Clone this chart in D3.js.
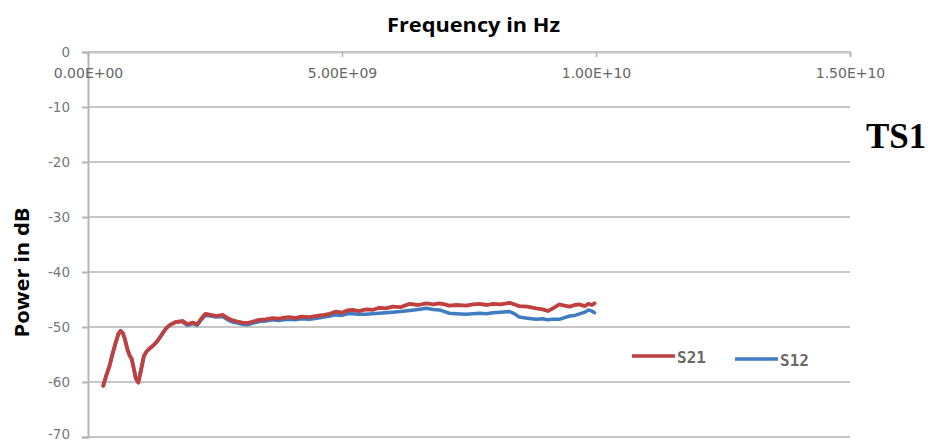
<!DOCTYPE html>
<html>
<head>
<meta charset="utf-8">
<script src="https://cdn.jsdelivr.net/npm/d3@7"></script>
<style>
  html, body { margin: 0; padding: 0; background: #fff; }
  svg { display: block; }
</style>
</head>
<body>
<svg id="chart" width="928" height="443"></svg>
<script>
// ---- data ----
const freqGHz = [0.30,0.36,0.42,0.48,0.54,0.60,0.64,0.68,0.72,0.78,0.82,0.86,0.90,0.94,0.99,1.04,1.10,1.15,1.20,1.28,1.37,1.45,1.54,1.62,1.73,1.80,
  1.86,1.96,2.06,2.15,2.22,2.31,2.42,2.52,2.65,2.75,2.85,2.94,3.04,3.14,3.25,3.37,3.50,3.63,3.75,3.86,3.96,4.08,4.20,4.36,4.50,4.65,4.76,4.88,5.00,5.10,
  5.21,5.33,5.47,5.60,5.73,5.86,6.00,6.15,6.33,6.50,6.66,6.80,6.92,7.02,7.11,7.25,7.44,7.58,7.71,7.85,7.97,8.12,8.30,8.40,8.49,8.65,8.82,8.95,9.05,9.15,
  9.28,9.38,9.48,9.58,9.68,9.78,9.85,9.92,9.97];

const s21 = [-60.7,-58.8,-57.2,-55.0,-53.0,-51.2,-50.7,-51.0,-52.0,-54.2,-55.2,-55.8,-57.5,-59.3,-60.1,-58.0,-55.3,-54.5,-54.0,-53.4,-52.5,-51.4,-50.2,-49.6,-49.1,-49.0,
  -48.9,-49.5,-49.2,-49.5,-48.6,-47.6,-47.8,-48.0,-47.8,-48.4,-48.8,-49.0,-49.2,-49.3,-49.0,-48.7,-48.6,-48.4,-48.5,-48.3,-48.2,-48.4,-48.1,-48.2,-48.0,
  -47.8,-47.6,-47.2,-47.4,-47.0,-46.9,-47.1,-46.8,-46.9,-46.5,-46.6,-46.3,-46.4,-45.8,-46.0,-45.7,-45.9,-45.7,-45.9,-46.1,-46.0,-46.1,-45.9,-45.8,-46.0,
  -45.8,-45.9,-45.6,-45.9,-46.2,-46.3,-46.6,-46.8,-47.1,-46.6,-45.9,-46.1,-46.3,-46.0,-45.9,-46.2,-45.8,-46.0,-45.7];

const s12 = [-60.7,-58.8,-57.2,-55.0,-53.0,-51.2,-50.7,-51.0,-52.0,-54.2,-55.2,-55.8,-57.5,-59.3,-60.1,-58.0,-55.3,-54.5,-54.0,-53.4,-52.5,-51.4,-50.2,-49.6,-49.1,-49.0,
  -49.1,-49.7,-49.4,-49.7,-48.8,-47.9,-48.0,-48.2,-48.1,-48.7,-49.1,-49.3,-49.5,-49.6,-49.3,-49.0,-48.9,-48.7,-48.8,-48.7,-48.6,-48.7,-48.5,-48.6,-48.4,
  -48.2,-48.0,-47.8,-47.9,-47.6,-47.6,-47.7,-47.7,-47.6,-47.5,-47.4,-47.3,-47.2,-47.0,-46.8,-46.6,-46.8,-46.9,-47.2,-47.5,-47.6,-47.7,-47.6,-47.5,-47.6,
  -47.4,-47.3,-47.2,-47.6,-48.2,-48.4,-48.6,-48.5,-48.7,-48.6,-48.6,-48.3,-48.0,-47.9,-47.6,-47.3,-46.9,-47.1,-47.4];

const seriesNames = ["S21", "S12"];
const xTickValues = [0, 5e9, 1e10, 1.5e10];
const xTickLabels = ["0.00E+00", "5.00E+09", "1.00E+10", "1.50E+10"];
const yTickValues = [0, -10, -20, -30, -40, -50, -60, -70];
const yTickLabels = ["0", "-10", "-20", "-30", "-40", "-50", "-60", "-70"];
const titleText = "Frequency in Hz";
const yTitleText = "Power in dB";
const sideLabel = "TS1";

// ---- drawing ----
const svg = d3.select("#chart");
const x = d3.scaleLinear().domain([0, 1.5e10]).range([88, 850]);
const y = d3.scaleLinear().domain([0, -70]).range([52, 437]);

const gridColor = "#c6c6c6";

// horizontal gridlines
svg.append("g").selectAll("line").data(yTickValues).join("line")
  .attr("x1", x(0)).attr("x2", x(1.5e10))
  .attr("y1", d => y(d)).attr("y2", d => y(d))
  .attr("stroke", gridColor).attr("stroke-width", 2);

// y axis
const yAxis = d3.axisLeft(y).tickValues(yTickValues)
  .tickFormat((d, i) => yTickLabels[i]).tickSize(6).tickPadding(12);
const gy = svg.append("g").attr("transform", `translate(${x(0)},0)`).call(yAxis);
gy.select(".domain").attr("stroke", "#b5b5b5").attr("stroke-width", 2);
gy.selectAll(".tick line").attr("stroke", "#b5b5b5").attr("stroke-width", 2);
gy.selectAll(".tick text").attr("fill", "#777").attr("font-family", "DejaVu Sans")
  .attr("font-size", 13.5).attr("dy", d => d === -70 ? "0.1em" : "0.3em");

// x axis (at top, value 0)
const xAxis = d3.axisBottom(x).tickValues(xTickValues)
  .tickFormat((d, i) => xTickLabels[i]).tickSize(5).tickPadding(11);
const gx = svg.append("g").attr("transform", `translate(0,${y(0)})`).call(xAxis);
gx.select(".domain").attr("stroke", gridColor).attr("stroke-width", 2);
gx.selectAll(".tick line").attr("stroke", "#b5b5b5").attr("stroke-width", 1.5);
gx.selectAll(".tick text").attr("fill", "#666").attr("font-family", "DejaVu Sans")
  .attr("font-size", 14);

// lines
const pts12 = freqGHz.map((f, i) => [f * 1e9, s12[i]]);
const pts21 = freqGHz.map((f, i) => [f * 1e9, s21[i]]);
const line = d3.line().x(d => x(d[0])).y(d => y(d[1]));

svg.append("path").datum(pts12).attr("d", line)
  .attr("fill", "none").attr("stroke", "#3f7cc2").attr("stroke-width", 3.5)
  .attr("stroke-linejoin", "round").attr("stroke-linecap", "round");
svg.append("path").datum(pts21).attr("d", line)
  .attr("fill", "none").attr("stroke", "#c0403f").attr("stroke-width", 3.8)
  .attr("stroke-linejoin", "round").attr("stroke-linecap", "round");

// legend
const legend = svg.append("g");
const legItems = [
  { name: seriesNames[0], color: "#c0403f", x0: 632, x1: 675, ly: 356, tx: 677, ty: 363 },
  { name: seriesNames[1], color: "#3f7cc2", x0: 735, x1: 778, ly: 359, tx: 780, ty: 366 }
];
legItems.forEach(it => {
  legend.append("line").attr("x1", it.x0).attr("x2", it.x1).attr("y1", it.ly).attr("y2", it.ly)
    .attr("stroke", it.color).attr("stroke-width", 3.5);
  legend.append("text").attr("x", it.tx).attr("y", it.ty).text(it.name)
    .attr("font-family", "DejaVu Sans Mono").attr("font-weight", "bold")
    .attr("font-size", 16).attr("fill", "#6a6a6a");
});

// titles
svg.append("text").attr("x", 473.5).attr("y", 32).attr("text-anchor", "middle")
  .attr("font-family", "Open Sans").attr("font-weight", "bold").attr("font-size", 19)
  .attr("textLength", 173).attr("lengthAdjust", "spacingAndGlyphs")
  .attr("fill", "#000").text(titleText);

svg.append("text").attr("transform", "translate(29,272.5) rotate(-90)")
  .attr("text-anchor", "middle")
  .attr("font-family", "Open Sans").attr("font-weight", "bold").attr("font-size", 19)
  .attr("textLength", 130).attr("lengthAdjust", "spacingAndGlyphs")
  .attr("fill", "#000").text(yTitleText);

svg.append("text").attr("x", 866).attr("y", 148)
  .attr("font-family", "Liberation Serif").attr("font-weight", "bold").attr("font-size", 35)
  .attr("fill", "#000").text(sideLabel);
</script>
</body>
</html>
